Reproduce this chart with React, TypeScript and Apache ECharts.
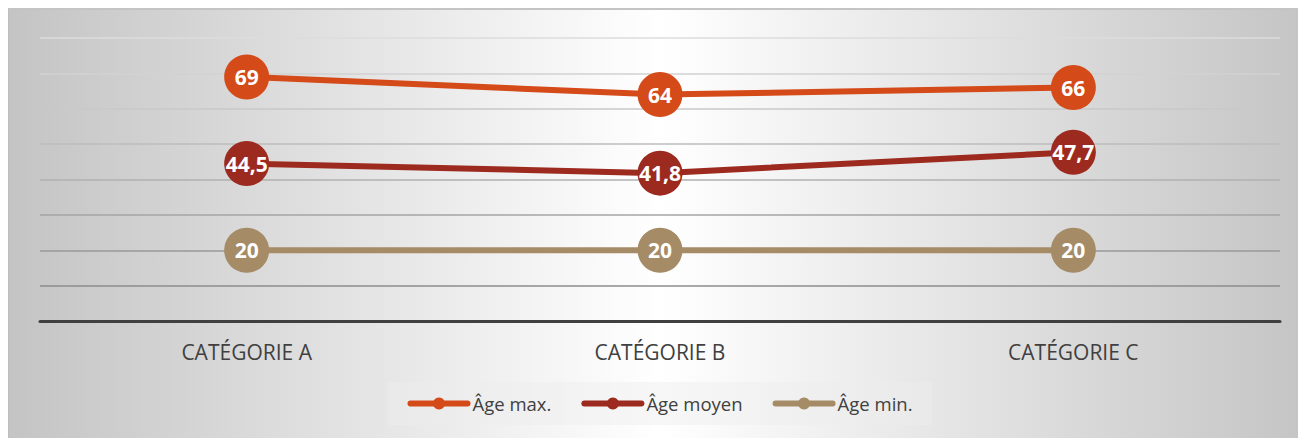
import React, { useEffect, useRef } from "react";
import * as echarts from "echarts";

const categories = ["CATÉGORIE A", "CATÉGORIE B", "CATÉGORIE C"];
const seriesNames = ["Âge max.", "Âge moyen", "Âge min."];
const ageMax = [69, 64, 66];
const ageMoyen = [44.5, 41.8, 47.7];
const ageMin = [20, 20, 20];
const seriesColors = ["#D44A18", "#9C2A1F", "#A58B66"];
const gridLineColors = ["#7f7f7f", "#8c8c8c", "#989898", "#a4a4a4", "#b0b0b0", "#bcbcbc", "#c8c8c8", "#d2d2d2", "#dcdcdc"];

const FONT = "'Open Sans', sans-serif";

export default function App() {
  const ref = useRef<HTMLDivElement>(null);
  useEffect(() => {
    if (!ref.current) return;
    const chart = echarts.init(ref.current, undefined, { renderer: "svg" });
    const values = [ageMax, ageMoyen, ageMin];
    chart.setOption({
      animation: false,
      backgroundColor: "transparent",
      textStyle: { fontFamily: FONT },
      grid: { left: 31, right: 31, top: 28, bottom: 129, containLabel: false },
      legend: {
        left: "center",
        top: 372,
        padding: [12, 20],
        backgroundColor: "rgba(238,238,238,0.45)",
        itemWidth: 57,
        itemHeight: 15,
        itemGap: 30,
        lineStyle: { width: 6, cap: "round" },
        textStyle: { fontFamily: FONT, fontSize: 18.5, color: "#404040" },
        data: seriesNames,
      },
      xAxis: {
        type: "category",
        data: categories,
        boundaryGap: true,
        axisLine: { show: true, lineStyle: { color: "#404040", width: 3 } },
        axisTick: { show: false },
        axisLabel: { fontFamily: FONT, fontSize: 21, color: "#404040", margin: 20 },
      },
      yAxis: {
        type: "value",
        min: 0,
        max: 80,
        interval: 10,
        axisLabel: { show: false },
        axisLine: { show: false },
        axisTick: { show: false },
        splitLine: { show: true, lineStyle: { color: gridLineColors, width: 1.5 } },
      },
      series: values.map((v, i) => ({
        name: seriesNames[i],
        type: "line",
        data: v,
        symbol: "circle",
        symbolSize: 45,
        color: seriesColors[i],
        lineStyle: { width: 6, color: seriesColors[i], cap: "round" },
        itemStyle: { color: seriesColors[i] },
        label: {
          show: true,
          position: "inside",
          color: "#ffffff",
          fontFamily: FONT,
          fontWeight: "bold",
          fontSize: 21,
          formatter: (p: any) => String(p.value).replace(".", ","),
        },
        emphasis: { disabled: true },
      })),
    });
    return () => chart.dispose();
  }, []);
  return (
    <div
      style={{
        position: "fixed",
        left: 8,
        top: 8,
        width: 1303,
        height: 442,
        borderTop: "2px solid #c4c4c4",
        borderLeft: "1px solid #bdbdbd",
        background: "linear-gradient(to right, #c4c4c4 0%, #ffffff 50%, #c4c4c4 100%)",
        overflow: "hidden",
      }}
    >
      <div ref={ref} style={{ width: 1302, height: 440 }} />
    </div>
  );
}
